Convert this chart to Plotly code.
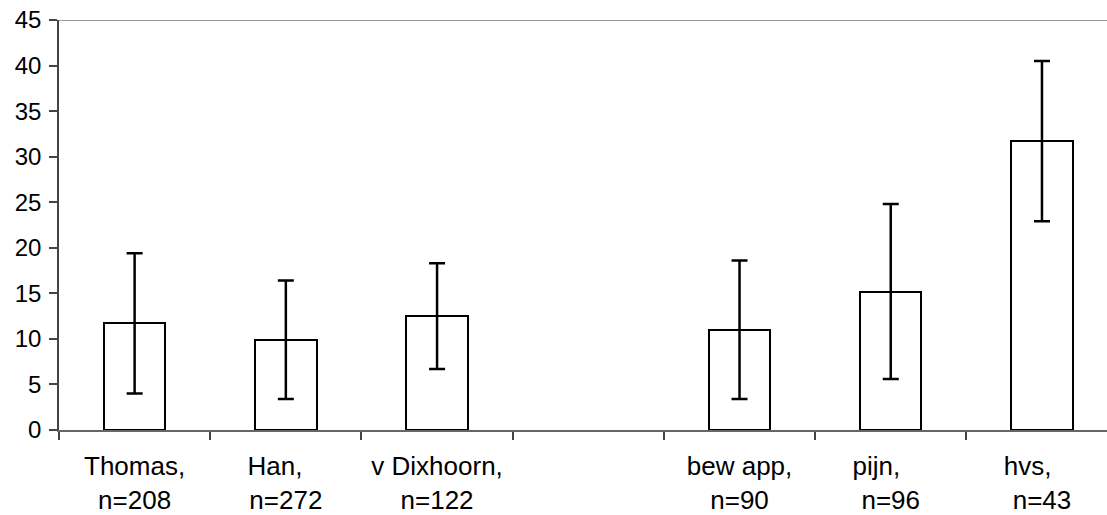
import plotly.graph_objects as go

# ---- data ----
groups = ["Thomas,", "Han,", "v Dixhoorn,", "", "bew app,", "pijn,", "hvs,"]
n_labels = ["n=208", "n=272", "n=122", "", "n=90", "n=96", "n=43"]
# trailing non-breaking spaces reproduce the off-centre first lines of the original
first_line_pad = [0, 3, 0, 0, 0, 4, 4]
means = [11.7, 9.9, 12.5, None, 11.0, 15.2, 31.7]
errors = [7.7, 6.5, 5.8, None, 7.6, 9.6, 8.8]
y_ticks = [0, 5, 10, 15, 20, 25, 30, 35, 40, 45]
Y_MAX = 45

categories = []
for g, n, pad in zip(groups, n_labels, first_line_pad):
    if g == "":
        categories.append("\u00a0")
    else:
        categories.append(g + "\u00a0" * pad + "<br>" + n)

FONT = "Liberation Sans, Arial, Helvetica, sans-serif"

fig = go.Figure()
fig.add_trace(go.Bar(
    x=categories,
    y=means,
    width=0.406,
    marker=dict(color="white", line=dict(color="black", width=2)),
    error_y=dict(type="data", array=errors, visible=True,
                 color="black", thickness=2.5, width=8),
    showlegend=False,
))

# top border line of the plot area (at the axis maximum)
fig.add_shape(type="line", xref="paper", yref="y", x0=0, x1=1,
              y0=Y_MAX, y1=Y_MAX, line=dict(color="#9a9a9a", width=2))

fig.update_layout(
    width=1107, height=515,
    margin=dict(l=59, r=0, t=20, b=85),
    paper_bgcolor="white", plot_bgcolor="white",
    font=dict(family=FONT, color="black"),
    bargap=0,
)
fig.update_xaxes(
    type="category",
    categoryorder="array", categoryarray=categories,
    range=[-0.5, 6.43],
    tickson="boundaries",
    ticks="outside", ticklen=8, tickwidth=1.5, tickcolor="#444444",
    showline=True, linecolor="#666666", linewidth=2,
    showgrid=False, zeroline=False,
    tickfont=dict(size=26, family=FONT, color="black"),
    ticklabelstandoff=12,
)
fig.update_yaxes(
    range=[0, Y_MAX],
    tickvals=y_ticks,
    ticks="outside", ticklen=8, tickwidth=1.5, tickcolor="#444444",
    showline=True, linecolor="#444444", linewidth=1.5,
    showgrid=False, zeroline=False,
    tickfont=dict(size=24, family=FONT, color="black"),
    ticklabelstandoff=3,
)

fig.write_html("out.html")
